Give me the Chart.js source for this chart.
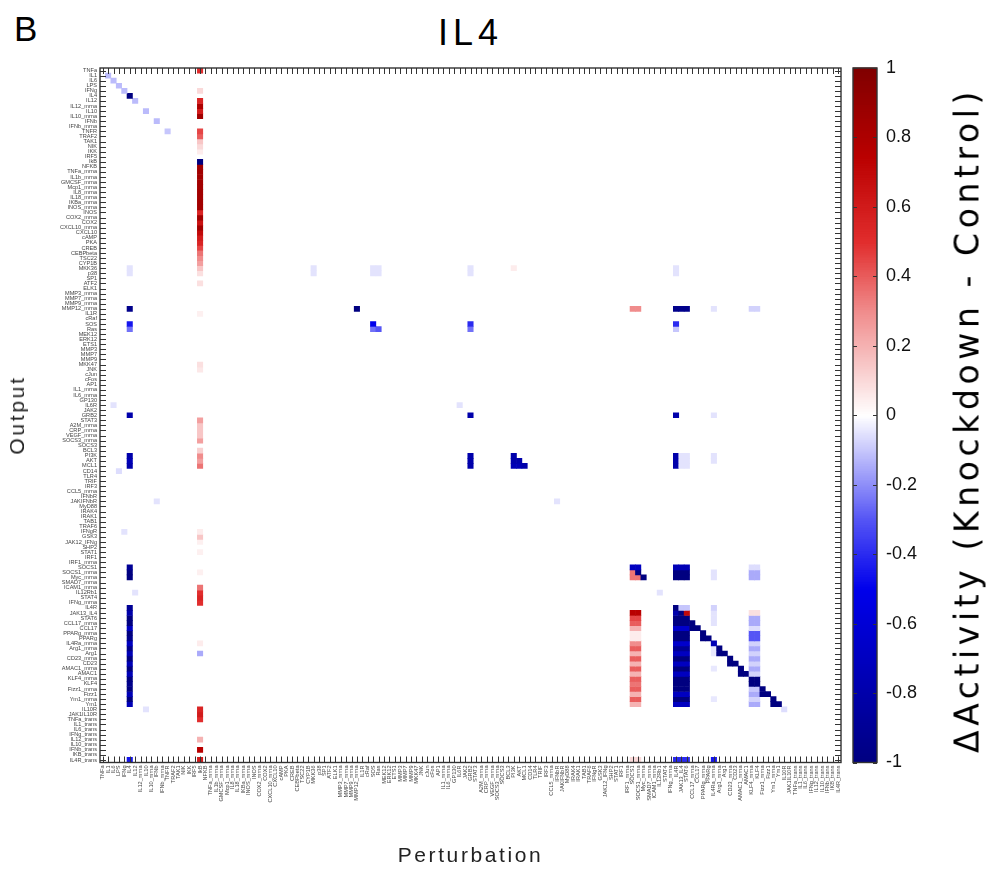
<!DOCTYPE html>
<html lang="en">
<head>
<meta charset="UTF-8">
<title>IL4 knockdown heatmap</title>
<script src="https://cdn.jsdelivr.net/npm/chart.js"></script>
<style>
    body { margin: 0; background: #fff; font-family: "Liberation Sans", Arial, sans-serif; color: #000; }
    #wrap { position: relative; width: 996px; height: 871px; overflow: hidden; }
    #heat { position: absolute; left: 0; top: 0; }
    #bar { position: absolute; left: 845px; top: 0; }
    .panel { position: absolute; left: 14px; top: 9px; font-size: 35px; }
    .title { position: absolute; left: 100px; width: 741px; top: 12px; text-align: center;
             font-size: 36px; letter-spacing: 5px; }
    .xlabel { position: absolute; left: 100px; width: 741px; top: 843px; text-align: center;
              font-size: 21px; letter-spacing: 2.6px; color: #222; }
    .ylabel { position: absolute; left: 17px; top: 415px; transform: translate(-50%, -50%) rotate(-90deg);
              font-size: 21px; letter-spacing: 2.7px; color: #222; white-space: nowrap; }
    .cblabel { position: absolute; left: 967px; top: 420px; transform: translate(-50%, -50%) rotate(-90deg);
               font-size: 33px; letter-spacing: 4.6px; white-space: nowrap; font-family: "DejaVu Sans", sans-serif; }
</style>
</head>
<body>
<div id="wrap">
    <div class="panel">B</div>
    <div class="title">IL4</div>
    <canvas id="heat" width="850" height="871"></canvas>
    <canvas id="bar" width="151" height="871"></canvas>
    <div class="xlabel">Perturbation</div>
    <div class="ylabel">Output</div>
    <div class="cblabel">ΔActivity (Knockdown - Control)</div>
</div>
<script>
// node names, used for both rows (output) and columns (perturbation)
const nodes = [
    'TNFa', 'IL1', 'IL6', 'LPS', 'IFNg', 'IL4', 'IL12', 'IL12_mrna', 'IL10', 'IL10_mrna',
    'IFNb', 'IFNb_mrna', 'TNFR', 'TRAF2', 'TAK1', 'NIK', 'IKK', 'IRF5', 'IkB', 'NFKB',
    'TNFa_mrna', 'IL1b_mrna', 'GMCSF_mrna', 'Mcp1_mrna', 'IL8_mrna', 'IL18_mrna', 'IKBa_mrna', 'INOS_mrna', 'INOS', 'COX2_mrna',
    'COX2', 'CXCL10_mrna', 'CXCL10', 'cAMP', 'PKA', 'CREB', 'CEBPbeta', 'TSC22', 'CYP1B', 'MKK36',
    'p38', 'SP1', 'ATF2', 'ELK1', 'MMP3_mrna', 'MMP7_mrna', 'MMP9_mrna', 'MMP12_mrna', 'IL1R', 'cRaf',
    'SOS', 'Ras', 'MEK12', 'ERK12', 'ETS1', 'MMP3', 'MMP7', 'MMP9', 'MKK47', 'JNK',
    'cJun', 'cFos', 'AP1', 'IL1_mrna', 'IL6_mrna', 'GP130', 'IL6R', 'JAK2', 'GRB2', 'STAT3',
    'A2M_mrna', 'CRP_mrna', 'VEGF_mrna', 'SOCS3_mrna', 'SOCS3', 'BCL3', 'PI3K', 'AKT', 'MCL1', 'CD14',
    'TLR4', 'TRIF', 'IRF3', 'CCL5_mrna', 'IFNbR', 'JAKIFNbR', 'MyD88', 'IRAK4', 'IRAK1', 'TAB1',
    'TRAF6', 'IFNgR', 'GSK3', 'JAK12_IFNg', 'SHP2', 'STAT1', 'IRF1', 'IRF1_mrna', 'SOCS1', 'SOCS1_mrna',
    'Myc_mrna', 'SMAD7_mrna', 'ICAM1_mrna', 'IL12Rb1', 'STAT4', 'IFNg_mrna', 'IL4R', 'JAK13_IL4', 'STAT6', 'CCL17_mrna',
    'CCL17', 'PPARg_mrna', 'PPARg', 'IL4Ra_mrna', 'Arg1_mrna', 'Arg1', 'CD23_mrna', 'CD23', 'AMAC1_mrna', 'AMAC1',
    'KLF4_mrna', 'KLF4', 'Fizz1_mrna', 'Fizz1', 'Ym1_mrna', 'Ym1', 'IL10R', 'JAK1IL10R', 'TNFa_trans', 'IL1_trans',
    'IL6_trans', 'IFNg_trans', 'IL12_trans', 'IL10_trans', 'IFNb_trans', 'IKB_trans', 'IL4R_trans'
];

// change in output activity for each knocked-down node: [output, value]
const kdIL1 = [['IL1', -0.12]];
const kdIL6 = [['IL6', -0.12], ['IL6R', -0.05]];
const kdLPS = [['LPS', -0.12], ['CD14', -0.06]];
const kdIFNg = [['IFNg', -0.12], ['IFNgR', -0.05]];
const kdIL4 = [
    ['IL4', -1], ['MKK36', -0.05], ['p38', -0.05], ['MMP12_mrna', -0.95], ['SOS', -0.45], ['Ras', -0.25],
    ['GRB2', -0.8], ['PI3K', -0.8], ['AKT', -0.75], ['MCL1', -0.8],
    ['SOCS1', -0.9], ['SOCS1_mrna', -1], ['Myc_mrna', -1],
    ['IL4R', -0.9], ['JAK13_IL4', -0.8], ['STAT6', -1], ['CCL17_mrna', -1], ['CCL17', -0.7],
    ['PPARg_mrna', -1], ['PPARg', -0.95], ['IL4Ra_mrna', -0.7], ['Arg1_mrna', -0.95], ['Arg1', -0.75],
    ['CD23_mrna', -1], ['CD23', -0.75], ['AMAC1_mrna', -1], ['AMAC1', -0.75], ['KLF4_mrna', -1], ['KLF4', -0.95],
    ['Fizz1_mrna', -1], ['Fizz1', -0.75], ['Ym1_mrna', -1], ['Ym1', -0.75], ['IL4R_trans', -0.45]
];
const kdIL12 = [['IL12', -0.12], ['IL12Rb1', -0.05]];
const kdIL10 = [['IL10', -0.12], ['IL10R', -0.05]];
const kdIFNb = [['IFNb', -0.12], ['JAKIFNbR', -0.05]];
const kdTNFR = [['TNFR', -0.1]];
const kdIkB = [
    ['TNFa', 0.5], ['IFNg', 0.1], ['IL12', 0.55], ['IL12_mrna', 0.8], ['IL10', 0.6], ['IL10_mrna', 0.85],
    ['TNFR', 0.45], ['TRAF2', 0.4], ['TAK1', 0.15], ['NIK', 0.1], ['IKK', 0.05],
    ['IkB', -1], ['NFKB', 0.85], ['TNFa_mrna', 0.85], ['IL1b_mrna', 0.85], ['GMCSF_mrna', 0.85],
    ['Mcp1_mrna', 0.85], ['IL8_mrna', 0.85], ['IL18_mrna', 0.85], ['IKBa_mrna', 0.85], ['INOS_mrna', 0.85],
    ['INOS', 0.55], ['COX2_mrna', 0.85], ['COX2', 0.65], ['CXCL10_mrna', 0.85], ['CXCL10', 0.7],
    ['cAMP', 0.6], ['PKA', 0.55], ['CREB', 0.45], ['CEBPbeta', 0.35], ['TSC22', 0.3], ['CYP1B', 0.25],
    ['MKK36', 0.15], ['p38', 0.08], ['ATF2', 0.08], ['IL1R', 0.04],
    ['MKK47', 0.08], ['JNK', 0.06],
    ['STAT3', 0.25], ['A2M_mrna', 0.15], ['CRP_mrna', 0.15], ['VEGF_mrna', 0.15], ['SOCS3_mrna', 0.25],
    ['BCL3', 0.12], ['PI3K', 0.3], ['AKT', 0.25], ['MCL1', 0.35],
    ['IFNgR', 0.05], ['GSK3', 0.15], ['JAK12_IFNg', 0.04], ['STAT1', 0.04], ['SOCS1_mrna', 0.04],
    ['ICAM1_mrna', 0.35], ['IL12Rb1', 0.5], ['STAT4', 0.55], ['IFNg_mrna', 0.5],
    ['IL4Ra_mrna', 0.05], ['Arg1', -0.15],
    ['IL10R', 0.55], ['JAK1IL10R', 0.6], ['TNFa_trans', 0.5],
    ['IL12_trans', 0.2], ['IFNb_trans', 0.75], ['IL4R_trans', 0.6]
];
const kdMKK36 = [['MKK36', -0.05], ['p38', -0.05]];
const kdMMP12_mrna = [['MMP12_mrna', -1]];
const kdSOS = [['MKK36', -0.05], ['p38', -0.05], ['SOS', -0.5], ['Ras', -0.25]];
const kdRas = [['MKK36', -0.05], ['p38', -0.05], ['Ras', -0.3]];
const kdIL6R = [['IL6R', -0.05]];
const kdGRB2 = [
    ['MKK36', -0.05], ['p38', -0.05], ['SOS', -0.4], ['Ras', -0.25], ['GRB2', -0.8],
    ['PI3K', -0.8], ['AKT', -0.8], ['MCL1', -0.8]
];
const kdPI3K = [['MKK36', 0.05], ['PI3K', -0.8], ['AKT', -0.8], ['MCL1', -0.75]];
const kdAKT = [['AKT', -0.8], ['MCL1', -0.75]];
const kdMCL1 = [['MCL1', -0.8]];
const kdIFNbR = [['JAKIFNbR', -0.05]];
const kdSOCS1 = [
    ['MMP12_mrna', 0.3], ['SOCS1', -0.7], ['SOCS1_mrna', 0.35], ['Myc_mrna', 0.35],
    ['JAK13_IL4', 0.75], ['STAT6', 0.45], ['CCL17_mrna', 0.4], ['CCL17', 0.2], ['PPARg_mrna', 0.05], ['PPARg', 0.05],
    ['IL4Ra_mrna', 0.3], ['Arg1_mrna', 0.4], ['Arg1', 0.2], ['CD23_mrna', 0.4], ['CD23', 0.2],
    ['AMAC1_mrna', 0.4], ['AMAC1', 0.2], ['KLF4_mrna', 0.4], ['KLF4', 0.35], ['Fizz1_mrna', 0.4], ['Fizz1', 0.2],
    ['Ym1_mrna', 0.4], ['Ym1', 0.2], ['IL4R_trans', 0.1]
];
const kdSOCS1_mrna = [
    ['MMP12_mrna', 0.3], ['SOCS1', -0.7], ['SOCS1_mrna', -1], ['Myc_mrna', 0.35],
    ['JAK13_IL4', 0.75], ['STAT6', 0.45], ['CCL17_mrna', 0.4], ['CCL17', 0.2], ['PPARg_mrna', 0.05], ['PPARg', 0.05],
    ['IL4Ra_mrna', 0.3], ['Arg1_mrna', 0.4], ['Arg1', 0.2], ['CD23_mrna', 0.4], ['CD23', 0.2],
    ['AMAC1_mrna', 0.4], ['AMAC1', 0.2], ['KLF4_mrna', 0.4], ['KLF4', 0.35], ['Fizz1_mrna', 0.4], ['Fizz1', 0.2],
    ['Ym1_mrna', 0.4], ['Ym1', 0.2], ['IL4R_trans', 0.1]
];
const kdMyc_mrna = [['Myc_mrna', -1]];
const kdIL12Rb1 = [['IL12Rb1', -0.05]];
const kdIL4R = [
    ['MKK36', -0.05], ['p38', -0.05], ['MMP12_mrna', -0.95], ['SOS', -0.4], ['Ras', -0.1],
    ['GRB2', -0.8], ['PI3K', -0.8], ['AKT', -0.8], ['MCL1', -0.8],
    ['SOCS1', -0.75], ['SOCS1_mrna', -1], ['Myc_mrna', -1],
    ['IL4R', -1], ['JAK13_IL4', -0.8], ['STAT6', -1], ['CCL17_mrna', -1], ['CCL17', -0.65],
    ['PPARg_mrna', -1], ['PPARg', -1], ['IL4Ra_mrna', -0.65], ['Arg1_mrna', -0.9], ['Arg1', -0.7],
    ['CD23_mrna', -1], ['CD23', -0.7], ['AMAC1_mrna', -1], ['AMAC1', -0.7], ['KLF4_mrna', -1], ['KLF4', -1],
    ['Fizz1_mrna', -1], ['Fizz1', -0.7], ['Ym1_mrna', -1], ['Ym1', -0.7], ['IL4R_trans', -0.4]
];
const kdJAK13_IL4 = [
    ['MMP12_mrna', -0.95], ['PI3K', -0.05], ['AKT', -0.05], ['MCL1', -0.05],
    ['SOCS1', -0.75], ['SOCS1_mrna', -1], ['Myc_mrna', -1],
    ['IL4R', -0.1], ['JAK13_IL4', -1], ['STAT6', -1], ['CCL17_mrna', -1], ['CCL17', -0.65],
    ['PPARg_mrna', -1], ['PPARg', -1], ['IL4Ra_mrna', -0.65], ['Arg1_mrna', -0.9], ['Arg1', -0.7],
    ['CD23_mrna', -1], ['CD23', -0.7], ['AMAC1_mrna', -1], ['AMAC1', -0.7], ['KLF4_mrna', -1], ['KLF4', -1],
    ['Fizz1_mrna', -1], ['Fizz1', -0.7], ['Ym1_mrna', -1], ['Ym1', -0.7], ['IL4R_trans', -0.4]
];
const kdSTAT6 = [
    ['MMP12_mrna', -0.95], ['PI3K', -0.05], ['AKT', -0.05], ['MCL1', -0.05],
    ['SOCS1', -0.75], ['SOCS1_mrna', -1], ['Myc_mrna', -1],
    ['IL4R', -0.1], ['JAK13_IL4', 0.7], ['STAT6', -1], ['CCL17_mrna', -1], ['CCL17', -0.65],
    ['PPARg_mrna', -1], ['PPARg', -1], ['IL4Ra_mrna', -0.65], ['Arg1_mrna', -0.9], ['Arg1', -0.7],
    ['CD23_mrna', -1], ['CD23', -0.7], ['AMAC1_mrna', -1], ['AMAC1', -0.7], ['KLF4_mrna', -1], ['KLF4', -1],
    ['Fizz1_mrna', -1], ['Fizz1', -0.7], ['Ym1_mrna', -1], ['Ym1', -0.7], ['IL4R_trans', -0.4]
];
const kdCCL17_mrna = [['CCL17_mrna', -1], ['CCL17', -1]];
const kdCCL17 = [['CCL17', -1]];
const kdPPARg_mrna = [['PPARg_mrna', -1], ['PPARg', -1]];
const kdPPARg = [['PPARg', -1]];
const kdIL4Ra_mrna = [
    ['MMP12_mrna', -0.05], ['GRB2', -0.05], ['PI3K', -0.05], ['AKT', -0.05],
    ['SOCS1_mrna', -0.05], ['Myc_mrna', -0.05], ['IL4R', -0.08], ['JAK13_IL4', -0.05], ['STAT6', -0.05],
    ['CCL17_mrna', -0.05], ['IL4Ra_mrna', -0.75], ['Arg1_mrna', -0.04], ['Arg1', -0.04],
    ['AMAC1_mrna', -0.04], ['Ym1_mrna', -0.04], ['IL4R_trans', -0.45]
];
const kdArg1_mrna = [['Arg1_mrna', -1], ['Arg1', -1]];
const kdArg1 = [['Arg1', -1]];
const kdCD23_mrna = [['CD23_mrna', -1], ['CD23', -1]];
const kdCD23 = [['CD23', -1]];
const kdAMAC1_mrna = [['AMAC1_mrna', -1], ['AMAC1', -1]];
const kdAMAC1 = [['AMAC1', -1]];
const kdKLF4_mrna = [
    ['MMP12_mrna', -0.08], ['SOCS1', -0.06], ['SOCS1_mrna', -0.15], ['Myc_mrna', -0.15],
    ['JAK13_IL4', 0.08], ['STAT6', -0.15], ['CCL17_mrna', -0.15], ['CCL17', -0.06],
    ['PPARg_mrna', -0.3], ['PPARg', -0.3], ['IL4Ra_mrna', -0.08], ['Arg1_mrna', -0.15], ['Arg1', -0.08],
    ['CD23_mrna', -0.15], ['CD23', -0.08], ['AMAC1_mrna', -0.15], ['AMAC1', -0.08],
    ['KLF4_mrna', -1], ['KLF4', -1], ['Fizz1_mrna', -0.1], ['Fizz1', -0.15], ['Ym1_mrna', -0.08], ['Ym1', -0.15]
];
const kdKLF4 = [
    ['MMP12_mrna', -0.08], ['SOCS1', -0.06], ['SOCS1_mrna', -0.15], ['Myc_mrna', -0.15],
    ['JAK13_IL4', 0.08], ['STAT6', -0.15], ['CCL17_mrna', -0.15], ['CCL17', -0.06],
    ['PPARg_mrna', -0.3], ['PPARg', -0.3], ['IL4Ra_mrna', -0.08], ['Arg1_mrna', -0.15], ['Arg1', -0.08],
    ['CD23_mrna', -0.15], ['CD23', -0.08], ['AMAC1_mrna', -0.15], ['AMAC1', -0.08],
    ['KLF4_mrna', -1], ['KLF4', -1], ['Fizz1_mrna', -0.1], ['Fizz1', -0.15], ['Ym1_mrna', -0.08], ['Ym1', -0.15]
];
const kdFizz1_mrna = [['Fizz1_mrna', -1], ['Fizz1', -1]];
const kdFizz1 = [['Fizz1', -1]];
const kdYm1_mrna = [['Ym1_mrna', -1], ['Ym1', -1]];
const kdYm1 = [['Ym1', -1]];
const kdIL10R = [['IL10R', -0.06]];

const knockdowns = [
    ['IL1', kdIL1], ['IL6', kdIL6], ['LPS', kdLPS], ['IFNg', kdIFNg], ['IL4', kdIL4], ['IL12', kdIL12],
    ['IL10', kdIL10], ['IFNb', kdIFNb], ['TNFR', kdTNFR], ['IkB', kdIkB], ['MKK36', kdMKK36],
    ['MMP12_mrna', kdMMP12_mrna], ['SOS', kdSOS], ['Ras', kdRas], ['IL6R', kdIL6R], ['GRB2', kdGRB2],
    ['PI3K', kdPI3K], ['AKT', kdAKT], ['MCL1', kdMCL1], ['IFNbR', kdIFNbR], ['SOCS1', kdSOCS1],
    ['SOCS1_mrna', kdSOCS1_mrna], ['Myc_mrna', kdMyc_mrna], ['IL12Rb1', kdIL12Rb1], ['IL4R', kdIL4R],
    ['JAK13_IL4', kdJAK13_IL4], ['STAT6', kdSTAT6], ['CCL17_mrna', kdCCL17_mrna], ['CCL17', kdCCL17],
    ['PPARg_mrna', kdPPARg_mrna], ['PPARg', kdPPARg], ['IL4Ra_mrna', kdIL4Ra_mrna],
    ['Arg1_mrna', kdArg1_mrna], ['Arg1', kdArg1], ['CD23_mrna', kdCD23_mrna], ['CD23', kdCD23],
    ['AMAC1_mrna', kdAMAC1_mrna], ['AMAC1', kdAMAC1], ['KLF4_mrna', kdKLF4_mrna], ['KLF4', kdKLF4],
    ['Fizz1_mrna', kdFizz1_mrna], ['Fizz1', kdFizz1], ['Ym1_mrna', kdYm1_mrna], ['Ym1', kdYm1],
    ['IL10R', kdIL10R]
];

// colour map stops (value -> rgb)
const rampStops = [
    [-1, [0, 0, 128]], [-0.5, [0, 0, 235]], [-0.3, [85, 85, 245]], [0, [255, 255, 255]],
    [0.3, [240, 140, 140]], [0.5, [225, 45, 45]], [0.75, [185, 0, 0]], [1, [128, 0, 0]]
];

function colorFor(v) {
    v = Math.max(-1, Math.min(1, v));
    for (let i = 1; i < rampStops.length; i++) {
        const [v1, c1] = rampStops[i];
        if (v <= v1) {
            const [v0, c0] = rampStops[i - 1];
            const t = (v - v0) / (v1 - v0);
            const c = c0.map((a, k) => Math.round(a + (c1[k] - a) * t));
            return `rgb(${c[0]},${c[1]},${c[2]})`;
        }
    }
    return 'rgb(128,0,0)';
}

// one floating-bar dataset per output row
const n = nodes.length;
const rows = {};
knockdowns.forEach(([pert, list]) => {
    const col = nodes.indexOf(pert);
    list.forEach(([out, v]) => {
        const r = nodes.indexOf(out);
        if (col < 0 || r < 0) { console.warn('unknown node', pert, out); return; }
        if (!rows[r]) rows[r] = { data: new Array(n).fill(null), colors: new Array(n).fill('rgba(0,0,0,0)') };
        rows[r].data[col] = [r + 0.5, r + 1.5];
        rows[r].colors[col] = colorFor(v);
    });
});
const datasets = Object.keys(rows).map(r => ({
    data: rows[r].data,
    backgroundColor: rows[r].colors,
    borderWidth: 0,
    barPercentage: 1,
    categoryPercentage: 1,
    grouped: false
}));

// inward tick marks on all four sides + frame
const frameTicks = {
    id: 'frameTicks',
    afterDraw(chart, args, opts) {
        const { ctx, chartArea: a, scales } = chart;
        ctx.save();
        ctx.strokeStyle = opts.color;
        ctx.lineWidth = 1;
        ctx.beginPath();
        if (opts.x) {
            scales.x.ticks.forEach((t, i) => {
                const p = Math.round(scales.x.getPixelForTick(i)) + 0.5;
                ctx.moveTo(p, a.top); ctx.lineTo(p, a.top + opts.len);
                ctx.moveTo(p, a.bottom); ctx.lineTo(p, a.bottom - opts.len);
            });
        }
        const ys = opts.ySide === 'right' ? scales.y2 : scales.y;
        ys.ticks.forEach((t, i) => {
            const p = Math.round(ys.getPixelForTick(i)) + 0.5;
            ctx.moveTo(a.left, p); ctx.lineTo(a.left + opts.len, p);
            ctx.moveTo(a.right, p); ctx.lineTo(a.right - opts.len, p);
        });
        ctx.stroke();
        ctx.lineWidth = 1.4;
        ctx.strokeRect(a.left, a.top, a.right - a.left, a.bottom - a.top);
        ctx.restore();
    }
};

const tickFont = { family: '"Liberation Sans", Arial, sans-serif', size: 5.6 };

new Chart(document.getElementById('heat'), {
    type: 'bar',
    data: { labels: nodes, datasets: datasets },
    options: {
        responsive: false,
        animation: false,
        layout: { padding: { top: 68, right: 9, left: 0, bottom: 0 } },
        plugins: {
            legend: { display: false },
            tooltip: { enabled: false },
            frameTicks: { color: '#333', len: 6, x: true }
        },
        scales: {
            x: {
                grid: { display: false, drawTicks: false },
                border: { display: false },
                ticks: { autoSkip: false, maxRotation: 90, minRotation: 90, padding: 3, font: tickFont, color: '#444' },
                afterFit(scale) { scale.height = 108.5; }
            },
            y: {
                type: 'linear',
                reverse: true,
                min: 0.5,
                max: n + 0.5,
                afterBuildTicks(scale) { scale.ticks = nodes.map((name, i) => ({ value: i + 1 })); },
                grid: { display: false, drawTicks: false },
                border: { display: false },
                ticks: { autoSkip: false, padding: 3, font: tickFont, color: '#444',
                         callback: (v) => nodes[v - 1] },
                afterFit(scale) { scale.width = 100; }
            }
        }
    },
    plugins: [frameTicks]
});

// colour bar: ramp painted along the chart's own value scale
const colorRamp = {
    id: 'colorRamp',
    beforeDatasetsDraw(chart) {
        const { ctx, chartArea: a, scales } = chart;
        const ys = scales.y2;
        const steps = 400;
        for (let i = 0; i < steps; i++) {
            const v0 = -1 + 2 * i / steps, v1 = -1 + 2 * (i + 1) / steps;
            const p0 = ys.getPixelForValue(v0), p1 = ys.getPixelForValue(v1);
            ctx.fillStyle = colorFor((v0 + v1) / 2);
            ctx.fillRect(a.left, p1 - 0.5, a.right - a.left, p0 - p1 + 1);
        }
    }
};

const barTicks = [-1, -0.8, -0.6, -0.4, -0.2, 0, 0.2, 0.4, 0.6, 0.8, 1];

new Chart(document.getElementById('bar'), {
    type: 'bar',
    data: { labels: [''], datasets: [] },
    options: {
        responsive: false,
        animation: false,
        layout: { padding: { top: 68, left: 8, right: 0, bottom: 108.5 } },
        plugins: {
            legend: { display: false },
            tooltip: { enabled: false },
            frameTicks: { color: '#333', len: 4, x: false, ySide: 'right' }
        },
        scales: {
            x: { display: false },
            y2: {
                type: 'linear',
                position: 'right',
                min: -1,
                max: 1,
                afterBuildTicks(scale) { scale.ticks = barTicks.map(v => ({ value: v })); },
                grid: { display: false, drawTicks: false },
                border: { display: false },
                ticks: { padding: 9, font: { size: 18, family: '"Liberation Sans", Arial' }, color: '#111',
                         callback: (v) => String(Math.round(v * 10) / 10) },
                afterFit(scale) { scale.width = 119; }
            }
        }
    },
    plugins: [colorRamp, frameTicks]
});
</script>
</body>
</html>
